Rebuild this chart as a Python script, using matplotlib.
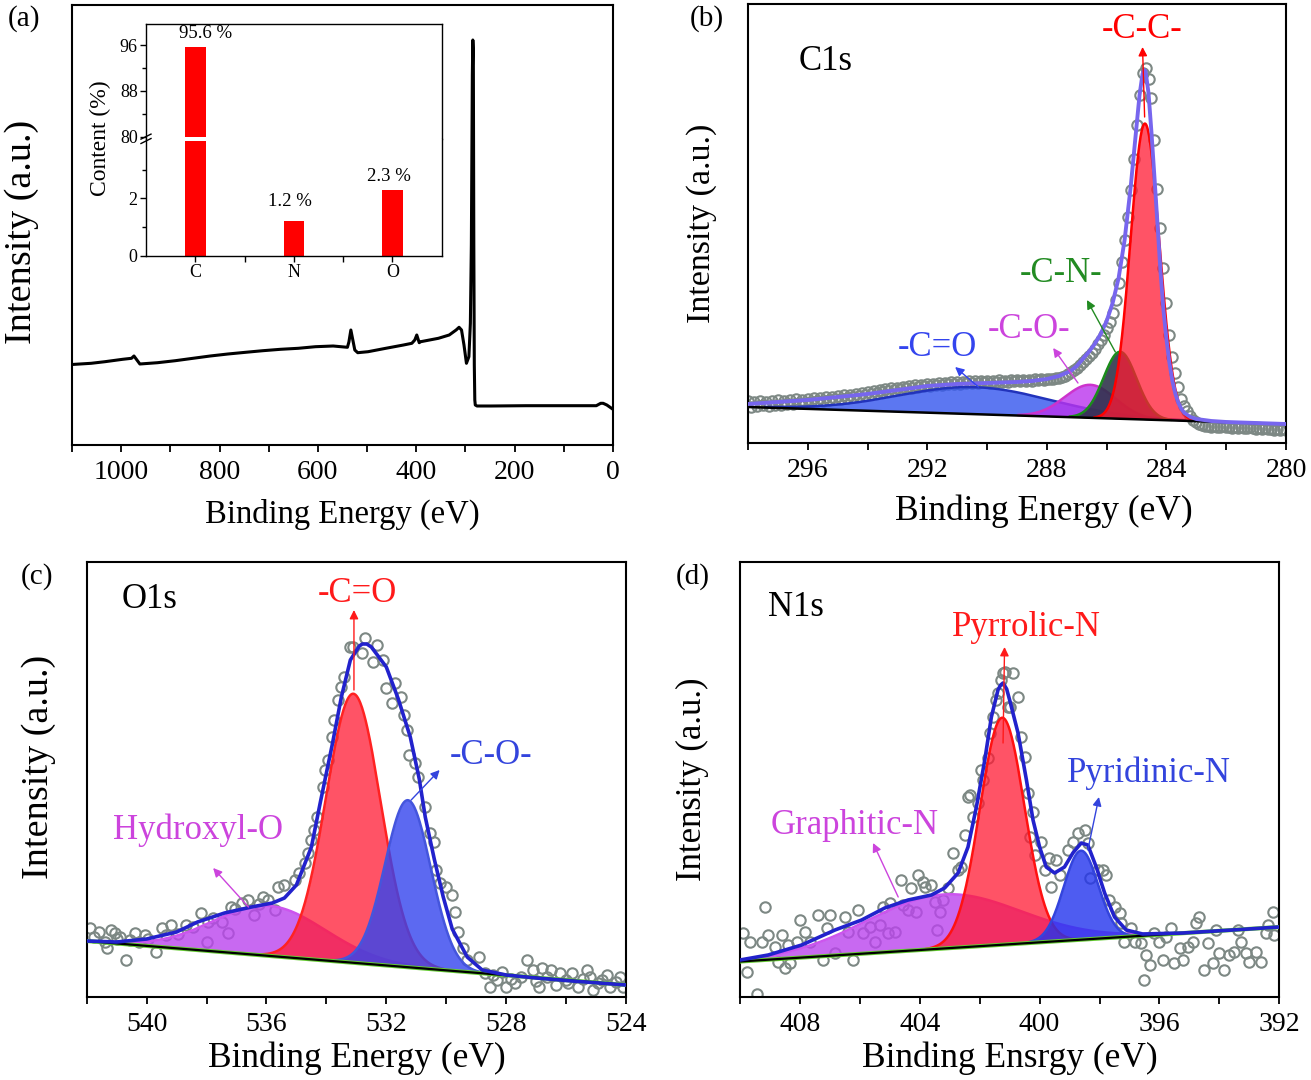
import numpy as np
import matplotlib
matplotlib.use("Agg")
import matplotlib.pyplot as plt
from matplotlib.ticker import MultipleLocator, FixedLocator
from matplotlib.lines import Line2D

plt.rcParams['font.family'] = ['Liberation Serif', 'DejaVu Serif']

# ======================= DATA =======================
# (a) survey spectrum
survey_be = [1100, 1061, 1033, 997, 979, 974, 968, 962, 926, 890, 854, 819, 783, 747,
             712, 676, 640, 605, 569, 540, 537, 533, 529, 525, 519, 498, 462, 426,
             409, 403, 399, 394, 391, 355, 333, 319, 313, 308, 303, 298, 293, 290,
             288, 286, 285, 284, 283, 282, 281, 280, 276.5, 248, 177, 105, 34, 25,
             20, 12.5, 0]
survey_int = [80.5, 81.7, 83.3, 85.7, 86.7, 89, 85, 81, 82.3, 84.3, 86.7, 89, 91, 92.7,
              94.3, 95.7, 96.7, 98.3, 99, 97.7, 103, 115, 105, 95, 92.3, 93.3, 96.7, 100,
              101.7, 105, 110, 102.3, 103.3, 106.7, 110, 115, 117.7, 115, 100, 81.7, 88.3, 121.7,
              200, 370, 405, 395, 200, 80, 45, 40, 39, 39, 39.3, 39.3, 39.3, 41.7,
              41.7, 40, 35.7]

# inset: element content
elements = ['C', 'N', 'O']
content = [95.6, 1.2, 2.3]
content_labels = ['95.6 %', '1.2 %', '2.3 %']

# (b) C1s
c1s_be = np.linspace(298.0, 280.0, 181)
c1s_int = [42, 36, 41, 37, 42, 38, 41, 37, 42, 38,
           43, 38, 42, 39, 43, 39, 44, 40, 43, 40,
           44, 41, 45, 42, 45, 42, 46, 43, 46, 44,
           47, 44, 48, 45, 48, 46, 49, 47, 50, 48,
           51, 49, 52, 50, 53, 51, 54, 52, 55, 53,
           55, 54, 56, 55, 57, 55, 58, 56, 58, 57,
           59, 57, 59, 58, 60, 58, 60, 59, 61, 59,
           61, 59, 61, 60, 62, 60, 62, 60, 62, 61,
           62, 60, 62, 61, 63, 61, 62, 61, 63, 62,
           63, 62, 63, 62, 63, 62, 64, 63, 64, 63,
           64, 64, 64, 65, 65, 66, 67, 69, 71, 73,
           75, 78, 81, 84, 87, 90, 94, 99, 103, 108,
           115, 121, 130, 143, 160, 181, 203, 226, 253, 284,
           318, 348, 370, 375, 364, 345, 303, 254, 215, 175,
           140, 108, 86, 70, 56, 44, 37, 32, 27, 23,
           21, 19, 18, 17, 17, 16, 17, 16, 16, 17,
           16, 16, 15, 16, 15, 16, 15, 15, 16, 15,
           14, 15, 14, 15, 14, 14, 13, 14, 13, 14,
           13]
c1s_env_be = [298.0, 297.0, 296.0, 295.0, 294.0, 293.0, 292.0, 291.0, 290.0, 289.0, 288.5,
              288.0, 287.6, 287.2, 287.0, 286.8, 286.6, 286.4, 286.2, 286.0, 285.8, 285.6,
              285.4, 285.2, 285.0, 284.9, 284.8, 284.75, 284.7, 284.6, 284.5, 284.4, 284.3,
              284.2, 284.1, 284.0, 283.9, 283.8, 283.7, 283.6, 283.5, 283.4, 283.2, 283.0,
              282.5, 282.0, 281.0, 280.0]
c1s_env_int = [39, 41, 43, 46, 49, 53, 57, 59, 60, 61, 62,
               64, 67, 72, 77, 84, 91, 99, 109, 122, 140, 165,
               203, 255, 317, 348, 369, 373, 372, 350, 310, 265, 219,
               172, 133, 104, 80, 62, 49, 40, 34, 30, 26, 24,
               22, 21, 20, 19]
c1s_base_be = [298.0, 280.0]
c1s_base_int = [36, 19]
c1s_names = ['-C=O', '-C-O-', '-C-N-', '-C-C-']
c1s_center = [290.4, 286.55, 285.55, 284.72]
c1s_fwhm = [6.0, 2.0, 1.3, 1.13]
c1s_height = [27, 33, 67, 296]

# (c) O1s
o1s_be = [541.9, 541.75, 541.6, 541.4, 541.33, 541.2, 541.06, 541.0, 540.9, 540.7, 540.55,
          540.4, 540.25, 540.06, 539.95, 539.7, 539.5, 539.35, 539.2, 538.95, 538.7, 538.45,
          538.2, 538.0, 537.95, 537.8, 537.5, 537.3, 537.2, 537.05, 536.8, 536.6, 536.4,
          536.25, 536.1, 535.95, 535.7, 535.6, 535.4, 535.05, 534.9, 534.7, 534.6, 534.5,
          534.4, 534.3, 534.1, 534.05, 533.95, 533.8, 533.75, 533.6, 533.5, 533.4, 533.2,
          533.1, 532.8, 532.7, 532.45, 532.3, 532.1, 532.0, 531.8, 531.7, 531.5, 531.4,
          531.3, 531.25, 531.05, 530.95, 530.7, 530.55, 530.4, 530.33, 530.2, 530.0, 529.8,
          529.7, 529.6, 529.45, 529.3, 528.9, 528.7, 528.55, 528.45, 528.3, 528.15, 528.0,
          527.85, 527.7, 527.5, 527.3, 527.1, 527.0, 526.9, 526.8, 526.65, 526.5, 526.35,
          526.2, 526.0, 525.95, 525.8, 525.6, 525.45, 525.3, 525.2, 525.1, 524.95, 524.8,
          524.65, 524.55, 524.35, 524.2, 524.1]
o1s_int = [69, 60, 65, 55, 49, 67, 64, 58, 60, 37, 57,
           64, 55, 62, 58, 45, 69, 62, 72, 63, 72, 70,
           84, 55, 75, 79, 75, 64, 90, 88, 94, 97, 82,
           93, 100, 97, 87, 110, 112, 117, 124, 134, 144, 157,
           167, 180, 210, 227, 237, 260, 277, 297, 310, 320, 350,
           350, 344, 359, 335, 352, 337, 309, 294, 314, 300, 282,
           267, 242, 234, 220, 190, 164, 155, 127, 114, 110, 102,
           85, 65, 49, 37, 40, 24, 10, 22, 17, 25, 10,
           18, 14, 20, 37, 27, 16, 10, 29, 20, 27, 12,
           24, 17, 14, 24, 10, 18, 27, 20, 7, 14, 17,
           22, 10, 15, 20, 10]
o1s_env_be = [542.0, 541.0, 540.0, 539.0, 538.3, 537.4, 536.5, 535.8, 535.4, 535.0, 534.5,
              534.2, 533.8, 533.5, 533.2, 532.9, 532.8, 532.65, 532.5, 532.0, 531.6, 531.2,
              530.9, 530.7, 530.4, 530.1, 529.8, 529.3, 528.8, 528.0, 527.0, 525.8, 524.0]
o1s_env_int = [56, 55, 58, 65, 75, 84, 90, 94, 99, 112, 150,
               195, 253, 300, 337, 351, 353, 353, 350, 330, 298, 260,
               218, 180, 138, 100, 68, 40, 27, 22, 19, 16, 12]
o1s_base_be = [542.0, 524.0]
o1s_base_int = [56, 12]
o1s_names = ['Hydroxyl-O', '-C=O', '-C-O-']
o1s_center = [535.9, 533.1, 531.28]
o1s_fwhm = [4.4, 2.15, 1.8]
o1s_height = [50, 269, 167]

# (d) N1s
n1s_be = [409.89, 409.78, 409.67, 409.44, 409.28, 409.17, 409.06, 408.83, 408.72, 408.61,
          408.5, 408.39, 408.33, 408.11, 408.0, 407.83, 407.67, 407.39, 407.22, 407.11,
          407.0, 406.83, 406.5, 406.39, 406.22, 406.06, 405.89, 405.67, 405.5, 405.33,
          405.22, 405.06, 405.0, 404.83, 404.61, 404.56, 404.39, 404.28, 404.11, 404.06,
          403.89, 403.83, 403.61, 403.5, 403.44, 403.33, 403.22, 403.06, 402.89, 402.72,
          402.61, 402.5, 402.39, 402.33, 402.22, 402.06, 401.94, 401.89, 401.72, 401.67,
          401.56, 401.44, 401.39, 401.28, 401.22, 401.17, 401.06, 401.0, 400.89, 400.72,
          400.61, 400.5, 400.39, 400.33, 400.22, 400.17, 399.94, 399.83, 399.67, 399.61,
          399.44, 399.33, 399.06, 398.89, 398.72, 398.5, 398.39, 398.33, 398.06, 397.89,
          397.78, 397.67, 397.5, 397.33, 397.28, 397.17, 396.94, 396.83, 396.61, 396.5,
          396.44, 396.33, 396.17, 396.0, 395.89, 395.78, 395.61, 395.5, 395.33, 395.22,
          395.06, 394.89, 394.78, 394.67, 394.5, 394.39, 394.22, 394.11, 394.0, 393.83,
          393.67, 393.5, 393.39, 393.28, 393.11, 393.0, 392.78, 392.61, 392.44, 392.39,
          392.22, 392.17]
n1s_int = [64, 25, 55, 3, 55, 90, 62, 50, 35, 62,
           29, 52, 34, 55, 77, 65, 55, 82, 37, 69,
           82, 44, 80, 65, 37, 87, 64, 70, 55, 72,
           90, 64, 94, 65, 117, 92, 87, 109, 85, 122,
           115, 110, 112, 95, 67, 85, 97, 109, 144, 127,
           130, 162, 200, 202, 180, 194, 227, 217, 239, 264,
           280, 297, 304, 317, 324, 325, 290, 290, 324, 300,
           260, 240, 204, 160, 185, 142, 155, 127, 139, 110,
           137, 122, 147, 155, 164, 167, 154, 119, 127, 127,
           122, 97, 90, 84, 74, 55, 69, 55, 54, 17,
           42, 32, 64, 55, 37, 60, 69, 34, 49, 37,
           50, 55, 74, 80, 27, 54, 34, 67, 44, 27,
           42, 45, 67, 55, 44, 35, 45, 35, 64, 72,
           85, 62]
n1s_env_be = [410.0, 409.06, 407.94, 406.83, 405.94, 405.17, 404.39, 403.61, 403.17, 402.72,
              402.39, 402.11, 401.83, 401.61, 401.39, 401.3, 401.22, 401.1, 401.0, 400.72,
              400.44, 400.22, 400.0, 399.78, 399.5, 399.17, 398.89, 398.61, 398.39, 398.11,
              397.83, 397.5, 397.11, 396.56, 395.22, 393.56, 392.0]
n1s_env_int = [37, 42, 52, 67, 77, 89, 97, 102, 109, 124,
               150, 190, 237, 280, 307, 312, 314, 308, 297, 264,
               217, 177, 150, 130, 124, 130, 144, 154, 152, 130,
               104, 80, 67, 63, 64, 67, 70]
n1s_base_be = [410.0, 392.0]
n1s_base_int = [35.5, 70]
n1s_names = ['Graphitic-N', 'Pyrrolic-N', 'Pyridinic-N']
n1s_center = [403.2, 401.25, 398.62]
n1s_fwhm = [6.0, 1.75, 1.35]
n1s_height = [54, 227, 89]

# ======================= FIGURE =======================
W, H = 1311, 1080
fig = plt.figure(figsize=(W / 100, H / 100), dpi=100)


def box(l, t, r, b):
    return [l / W, 1 - b / H, (r - l) / W, (b - t) / H]


TICK_FS = 20
ANN_FS = 25
DATA_GRAY = '#7D8884'


def style_axis(ax, major, minor, xlabel='Binding Energy (eV)', xpad=10, xfs=23.5,
               yfs=25, ypad=22, xlab_x=0.5, ylab_y=0.5):
    for s in ax.spines.values():
        s.set_linewidth(1.5)
    ax.set_yticks([])
    ax.xaxis.set_major_locator(MultipleLocator(major))
    ax.xaxis.set_minor_locator(MultipleLocator(minor))
    ax.tick_params(axis='x', which='both', direction='out', length=5, width=1.3,
                   labelsize=TICK_FS, pad=6, top=False)
    ax.set_xlabel(xlabel, fontsize=xfs, labelpad=xpad)
    ax.set_ylabel('Intensity (a.u.)', fontsize=yfs, labelpad=ypad)
    ax.xaxis.label.set_x(xlab_x)
    ax.yaxis.label.set_y(ylab_y)


def gauss(x, c, fwhm, h):
    return h * np.exp(-4 * np.log(2) * ((x - c) / fwhm) ** 2)


def draw_fit(ax, lims, base_be, base_int, centers, fwhms, heights, styles):
    xx = np.linspace(min(lims), max(lims), 900)
    bb = np.interp(xx, sorted(base_be), [v for _, v in sorted(zip(base_be, base_int))])
    for c, f, h, (fc, alpha, ec, z) in zip(centers, fwhms, heights, styles):
        comp = gauss(xx, c, f, h)
        ax.fill_between(xx, bb, bb + comp, color=fc, alpha=alpha, lw=0, zorder=z)
        edge = np.where(comp > 0.6, bb + comp, np.nan)
        ax.plot(xx, edge, color=ec, lw=1.8, zorder=z + 0.05)
    return xx, bb


def arrow(ax, tail, tip, color):
    ax.annotate('', xy=tip, xytext=tail,
                arrowprops=dict(arrowstyle='-|>', color=color, lw=1.0,
                                mutation_scale=13, shrinkA=0, shrinkB=0), zorder=8)


# ---------------- (a) survey ----------------
axa = fig.add_axes(box(72, 5, 613, 445))
axa.plot(survey_be, survey_int, color='black', lw=2.2, solid_joinstyle='round')
axa.set_xlim(1100, 0)
axa.set_ylim(0, 440)
style_axis(axa, 200, 100, yfs=27.5, ypad=24, ylab_y=0.485)

# inset bar chart with broken axis
ax_up = fig.add_axes(box(146, 23.5, 441.7, 138.8))
ax_lo = fig.add_axes(box(146, 138.8, 441.7, 255.7))
xpos = np.arange(len(elements))
vals = np.array(content)
ax_up.bar(xpos, np.maximum(vals - 80, 0), bottom=80, width=0.21, color='#FF0000')
ax_lo.bar(xpos, np.minimum(vals, 4.0), width=0.21, color='#FF0000')
ax_up.set_ylim(79.65, 99.75)
ax_lo.set_ylim(0, 4.07)
for a in (ax_up, ax_lo):
    a.set_xlim(-0.5, 2.5)
    for s in a.spines.values():
        s.set_linewidth(1.0)
    a.tick_params(axis='y', which='both', direction='out', labelsize=13, pad=2, width=1.0)
    a.tick_params(axis='y', which='major', length=4)
    a.tick_params(axis='y', which='minor', length=3)
ax_up.spines['bottom'].set_visible(False)
ax_lo.spines['top'].set_visible(False)
ax_up.set_xticks([])
ax_up.yaxis.set_major_locator(FixedLocator([80, 88, 96]))
ax_up.yaxis.set_minor_locator(FixedLocator([84, 92]))
ax_lo.yaxis.set_major_locator(FixedLocator([0, 2]))
ax_lo.yaxis.set_minor_locator(FixedLocator([1, 3]))
ax_lo.set_xticks(xpos)
ax_lo.set_xticklabels(elements)
ax_lo.xaxis.set_minor_locator(FixedLocator([0.5, 1.5]))
ax_lo.tick_params(axis='x', which='both', direction='out', length=4, width=1.0,
                  labelsize=13, pad=2)
ax_up.text(0.1, 98.0, content_labels[0], fontsize=13.5, ha='center', va='center')
ax_lo.text(0.96, 1.89, content_labels[1], fontsize=13.5, ha='center', va='center')
ax_lo.text(1.96, 2.76, content_labels[2], fontsize=13.5, ha='center', va='center')
for dy in (-2.2, 2.2):
    fig.add_artist(Line2D([141 / W, 151 / W], [1 - (138.8 + dy + 2.5) / H, 1 - (138.8 + dy - 2.5) / H],
                          color='black', lw=1.0))
fig.text(100 / W, 1 - 138 / H, 'Content (%)', rotation=90, fontsize=17,
         ha='center', va='center')

# ---------------- (b) C1s ----------------
axb = fig.add_axes(box(748, 4, 1286, 443))
axb.plot(c1s_be, c1s_int, 'o', mfc='none', mec=DATA_GRAY, ms=7.5, mew=1.5, zorder=2)
c1s_styles = [('#3355EE', 0.8, '#2233BB', 3.0),
              ('#BB33EE', 0.8, '#CC33CC', 3.1),
              ('#2C3148', 0.88, '#1A8C1A', 3.2),
              ('#FF1A33', 0.75, '#FF0000', 3.3)]
draw_fit(axb, (298, 280), c1s_base_be, c1s_base_int, c1s_center, c1s_fwhm,
         c1s_height, c1s_styles)
axb.plot(c1s_base_be, c1s_base_int, color='black', lw=1.8, zorder=4)
axb.plot(c1s_env_be, c1s_env_int, color='#7766EE', lw=2.8, zorder=6, solid_joinstyle='round')
axb.set_xlim(298, 280)
axb.set_ylim(0, 439)
style_axis(axb, 4, 2, xfs=25.5, xpad=8, yfs=24.5, ypad=22, xlab_x=0.55, ylab_y=0.5)
axb.text(295.4, 381, 'C1s', fontsize=ANN_FS, ha='center', va='center')
axb.text(284.81, 413, '-C-C-', fontsize=ANN_FS, color='#FF0000', ha='center', va='center')
arrow(axb, (284.73, 326), (284.8, 396), '#FF0000')
axb.text(287.53, 170, '-C-N-', fontsize=ANN_FS, color='#228B22', ha='center', va='center')
arrow(axb, (285.71, 91), (286.66, 143), '#228B22')
axb.text(288.6, 114, '-C-O-', fontsize=ANN_FS, color='#CC44DD', ha='center', va='center')
arrow(axb, (286.96, 60), (287.79, 95), '#CC44DD')
axb.text(291.67, 95.5, '-C=O', fontsize=ANN_FS, color='#3344EE', ha='center', va='center')
arrow(axb, (290.29, 56), (291.07, 76), '#3344EE')

# ---------------- (c) O1s ----------------
axc = fig.add_axes(box(86.7, 562, 626, 997))
axc.plot(o1s_be, o1s_int, 'o', mfc='none', mec=DATA_GRAY, ms=7.5, mew=1.5, zorder=2)
o1s_styles = [('#BB44EE', 0.8, '#CC55EE', 3.0),
              ('#FF1A33', 0.75, '#FF2222', 3.1),
              ('#3344EE', 0.8, '#4455DD', 3.2)]
draw_fit(axc, (542, 524), o1s_base_be, o1s_base_int, o1s_center, o1s_fwhm, o1s_height, o1s_styles)
axc.plot(o1s_base_be, o1s_base_int, color='#66CC33', lw=3.0, zorder=3.9)
axc.plot(o1s_base_be, o1s_base_int, color='black', lw=1.6, zorder=4)
axc.plot(o1s_env_be, o1s_env_int, color='#2222CC', lw=2.6, zorder=6, solid_joinstyle='round')
axc.set_xlim(542, 524)
axc.set_ylim(0, 435)
style_axis(axc, 4, 2, xfs=25.5, xpad=3, yfs=27.5, ypad=22, ylab_y=0.53)
axc.text(539.9, 397, 'O1s', fontsize=ANN_FS, ha='center', va='center')
axc.text(532.97, 404, '-C=O', fontsize=ANN_FS, color='#FF1A1A', ha='center', va='center')
arrow(axc, (533.08, 307), (533.08, 387), '#FF1A1A')
axc.text(528.5, 241, '-C-O-', fontsize=ANN_FS, color='#3344DD', ha='center', va='center')
arrow(axc, (531.17, 197), (530.22, 227), '#3344DD')
axc.text(538.3, 167, 'Hydroxyl-O', fontsize=ANN_FS, color='#CC44DD', ha='center', va='center')
arrow(axc, (536.6, 90), (537.78, 129), '#CC44DD')

# ---------------- (d) N1s ----------------
axd = fig.add_axes(box(740, 562, 1279.3, 997))
axd.plot(n1s_be, n1s_int, 'o', mfc='none', mec=DATA_GRAY, ms=7.5, mew=1.5, zorder=2)
n1s_styles = [('#BB44EE', 0.8, '#CC55EE', 3.0),
              ('#FF1A33', 0.75, '#FF1111', 3.1),
              ('#2233EE', 0.8, '#3344DD', 3.2)]
draw_fit(axd, (410, 392), n1s_base_be, n1s_base_int, n1s_center, n1s_fwhm, n1s_height, n1s_styles)
axd.plot(n1s_base_be, n1s_base_int, color='#66CC33', lw=3.0, zorder=3.9)
axd.plot(n1s_base_be, n1s_base_int, color='black', lw=1.6, zorder=4)
axd.plot(n1s_env_be, n1s_env_int, color='#2222CC', lw=2.6, zorder=6, solid_joinstyle='round')
axd.set_xlim(410, 392)
axd.set_ylim(0, 435)
style_axis(axd, 4, 2, xlabel='Binding Ensrgy (eV)', xfs=25.5, xpad=3, yfs=25, ypad=22)
axd.text(408.13, 389, 'N1s', fontsize=ANN_FS, ha='center', va='center')
axd.text(400.45, 370, 'Pyrrolic-N', fontsize=ANN_FS, color='#FF1A1A', ha='center', va='center')
arrow(axd, (401.22, 254), (401.17, 350), '#FF1A1A')
axd.text(396.36, 224, 'Pyridinic-N', fontsize=ANN_FS, color='#3344DD', ha='center', va='center')
arrow(axd, (398.39, 147), (398.02, 200), '#3344DD')
axd.text(406.17, 172, 'Graphitic-N', fontsize=ANN_FS, color='#CC44DD', ha='center', va='center')
arrow(axd, (404.72, 100), (405.56, 154), '#CC44DD')

# panel letters
for lbl, (px, py) in zip(['(a)', '(b)', '(c)', '(d)'],
                         [(24, 19), (707, 19), (37, 577), (693, 577)]):
    fig.text(px / W, 1 - py / H, lbl, fontsize=21, ha='center', va='center')

fig.savefig('out.png', dpi=100)
